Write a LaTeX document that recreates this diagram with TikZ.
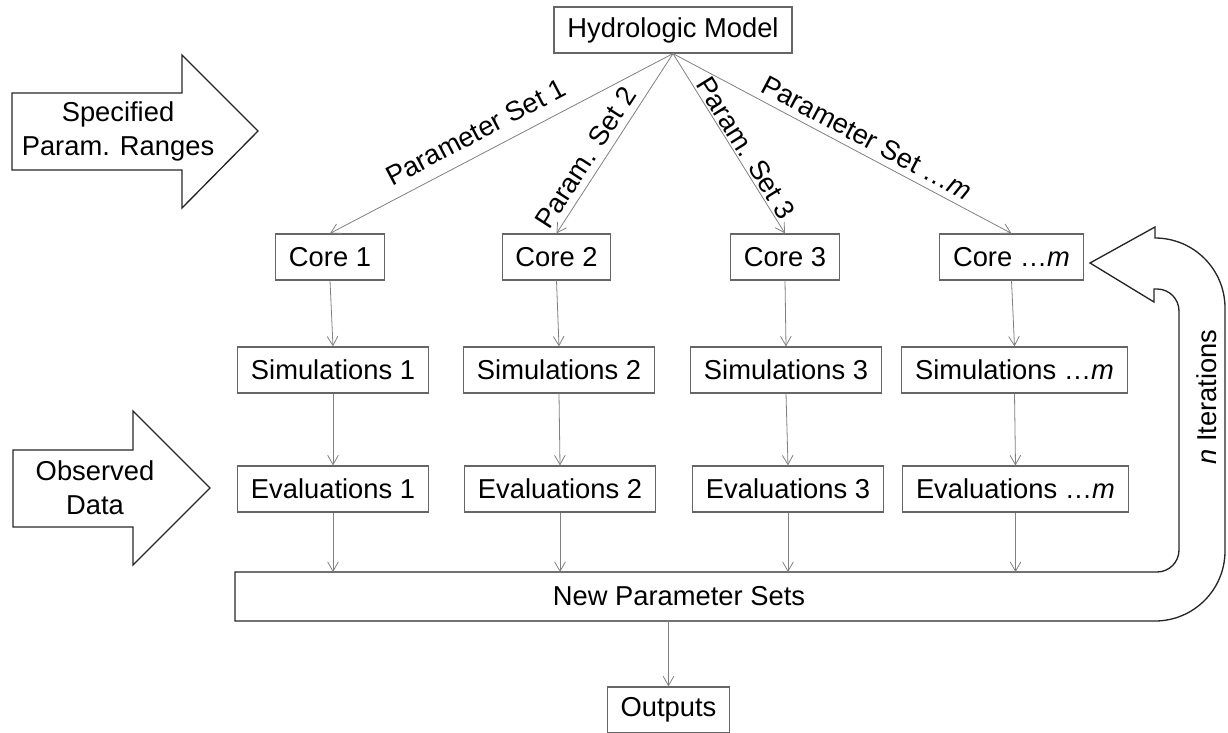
\documentclass[tikz,border=0pt]{standalone}
\usepackage{fontspec}
\setmainfont{Liberation Sans}
\usetikzlibrary{arrows.meta}
\begin{document}
\begin{tikzpicture}[x=0.75pt,y=-0.75pt,
  font=\fontsize{20.5}{25.5}\selectfont,
  box/.style={draw=black!60, line width=0.9pt, inner xsep=10pt, inner ysep=0pt, minimum height=34.5pt, fill=white},
  arr/.style={draw=black!50, line width=0.6pt, -{Straight Barb[length=7pt,width=8pt]}},
  lab/.style={inner xsep=0pt, sloped},
  blk/.style={draw=black!85, line width=1pt, line join=miter}]
\useasboundingbox (0,0) rectangle (1228,732);

% block arrows on the left
\draw[blk] (12,93) -- (182,93) -- (182,55) -- (258,131) -- (182,208) -- (182,170) -- (12,170) -- cycle;
\node[align=center] (spec) at (118,131) {Specified\\Param. Ranges};
\draw[blk] (13,450) -- (133,450) -- (133,411) -- (210,488) -- (133,565) -- (133,527) -- (13,527) -- cycle;
\node[align=center] (obs) at (95,488) {Observed\\Data};

% loop arrow merged with New Parameter Sets box
\draw[blk] (235,572) -- (1157,572) arc[start angle=90, end angle=0, radius=22]
  -- (1179,311) arc[start angle=0, end angle=-90, radius=22]
  -- (1154,289) -- (1154,302) -- (1090,263) -- (1155,227) -- (1155,238)
  arc[start angle=-90, end angle=0, radius=70]
  -- (1225,551) arc[start angle=0, end angle=90, radius=70]
  -- (235,621) -- cycle;
\coordinate (newtop) at (235,572);
\coordinate (newbot) at (235,621);
\node (newps) at (679,596) {New Parameter Sets};
\node[rotate=90] (iter) at (1207,397) {\textit{n} Iterations};

% nodes
\node[box] (hm) at (673,30) {Hydrologic Model};
\node[box] (c1) at (330,257) {Core 1};
\node[box] (c2) at (556.5,257) {Core 2};
\node[box] (c3) at (785,257) {Core 3};
\node[box] (cm) at (1011.5,257) {Core …\textit{m}};
\node[box] (s1) at (333,370) {Simulations 1};
\node[box] (s2) at (559,370) {Simulations 2};
\node[box] (s3) at (786,370) {Simulations 3};
\node[box] (sm) at (1014.5,370) {Simulations …\textit{m}};
\node[box] (e1) at (333,489) {Evaluations 1};
\node[box] (e2) at (560,489) {Evaluations 2};
\node[box] (e3) at (788,489) {Evaluations 3};
\node[box] (em) at (1015.5,489) {Evaluations …\textit{m}};
\node[box] (out) at (668.5,710) {Outputs};

% fan-out connectors with labels
\draw[arr] (hm.south) -- node[lab, pos=0.545, above, inner ysep=9pt] {Parameter Set 1} (c1.north);
\draw[arr] (hm.south) -- node[lab, pos=0.63, above, inner ysep=5pt] {Param. Set 2} (c2.north);
\draw[arr] (hm.south) -- node[lab, pos=0.56, above, inner ysep=1.5pt] {Param. Set 3} (c3.north);
\draw[arr] (hm.south) -- node[lab, pos=0.55, above, inner ysep=5pt] {Parameter Set …\textit{m}} (cm.north);

% vertical connectors
\foreach \i in {1,2,3,m}{
  \draw[arr] (c\i.south) -- (s\i.north);
  \draw[arr] (s\i.south) -- (e\i.north);
  \draw[arr] (e\i.south) -- (e\i.south |- newtop);
}
\draw[arr] (out.north |- newbot) -- (out.north);
\end{tikzpicture}
\end{document}
